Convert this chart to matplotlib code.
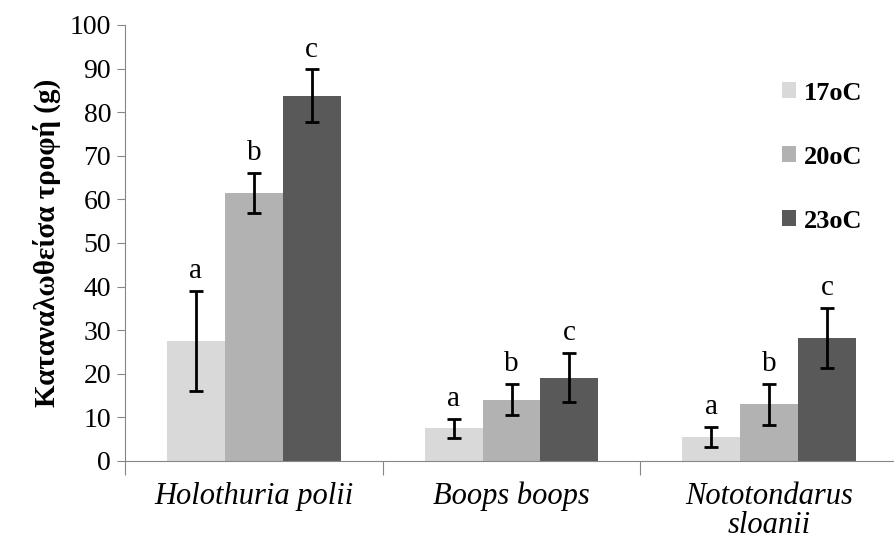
import matplotlib
matplotlib.use("Agg")
import matplotlib.pyplot as plt
from matplotlib.patches import Patch
import numpy as np

species = ["Holothuria polii", "Boops boops", "Nototondarus\nsloanii"]
temps = ["17oC", "20oC", "23oC"]

# consumed food (g) per temperature, one list per series
food_17 = [27.5, 7.5, 5.6]
food_20 = [61.4, 14.1, 13.0]
food_23 = [83.8, 19.1, 28.3]
err_17 = [11.5, 2.2, 2.3]
err_20 = [4.6, 3.5, 4.7]
err_23 = [6.0, 5.6, 6.9]
letters = ["a", "b", "c"]

colors = ["#d9d9d9", "#b2b2b2", "#595959"]
axis_col = "#868686"

plt.rcParams['font.family'] = ['Liberation Serif', 'DejaVu Serif']

fig = plt.figure(figsize=(8.94, 5.41), dpi=100)
ax = fig.add_axes([125/894, 1-461/541, 773/894, (461-25)/541])

x = np.arange(len(species))
w = 0.225
series = [(food_17, err_17), (food_20, err_20), (food_23, err_23)]
for k, (vals, errs) in enumerate(series):
    pos = x + (k-1)*w
    ax.bar(pos, vals, w, color=colors[k], yerr=errs, label=temps[k],
           error_kw=dict(ecolor='black', elinewidth=2, capsize=5, capthick=2))
    for p, v, e in zip(pos, vals, errs):
        ax.annotate(letters[k], (p, v+e), xytext=(0, 5), textcoords='offset points',
                    ha='center', va='bottom', fontsize=21)

ax.set_xlim(-0.5, 2.5)
ax.set_ylim(0, 100)
ax.set_yticks(range(0, 101, 10))
ax.tick_params(axis='y', labelsize=20, length=6, color=axis_col, pad=4)
ax.set_xticks([-0.5, 0.5, 1.5, 2.5])
ax.set_xticklabels([])
ax.tick_params(axis='x', length=10, color=axis_col)
ax.set_xticks(x, minor=True)
ax.set_xticklabels(species, minor=True, fontsize=22, style='italic')
ax.tick_params(axis='x', which='minor', length=0, pad=15)
for lbl in ax.get_xticklabels(minor=True):
    lbl.set_linespacing(1.0)

for s in ['top', 'right']:
    ax.spines[s].set_visible(False)
for s in ['left', 'bottom']:
    ax.spines[s].set_color(axis_col)

ax.set_ylabel("Καταναλωθείσα τροφή (g)", fontsize=21, fontweight='bold', labelpad=6)

handles = [Patch(facecolor=c, edgecolor='none') for c in colors]
leg = ax.legend(handles, temps, loc='upper left', bbox_to_anchor=(758/894, 1-58/541),
                bbox_transform=fig.transFigure, frameon=False,
                prop=dict(size=19, weight='bold'), handlelength=0.55, handleheight=0.55,
                handletextpad=0.3, labelspacing=1.55)

fig.savefig("out.png", dpi=100)
